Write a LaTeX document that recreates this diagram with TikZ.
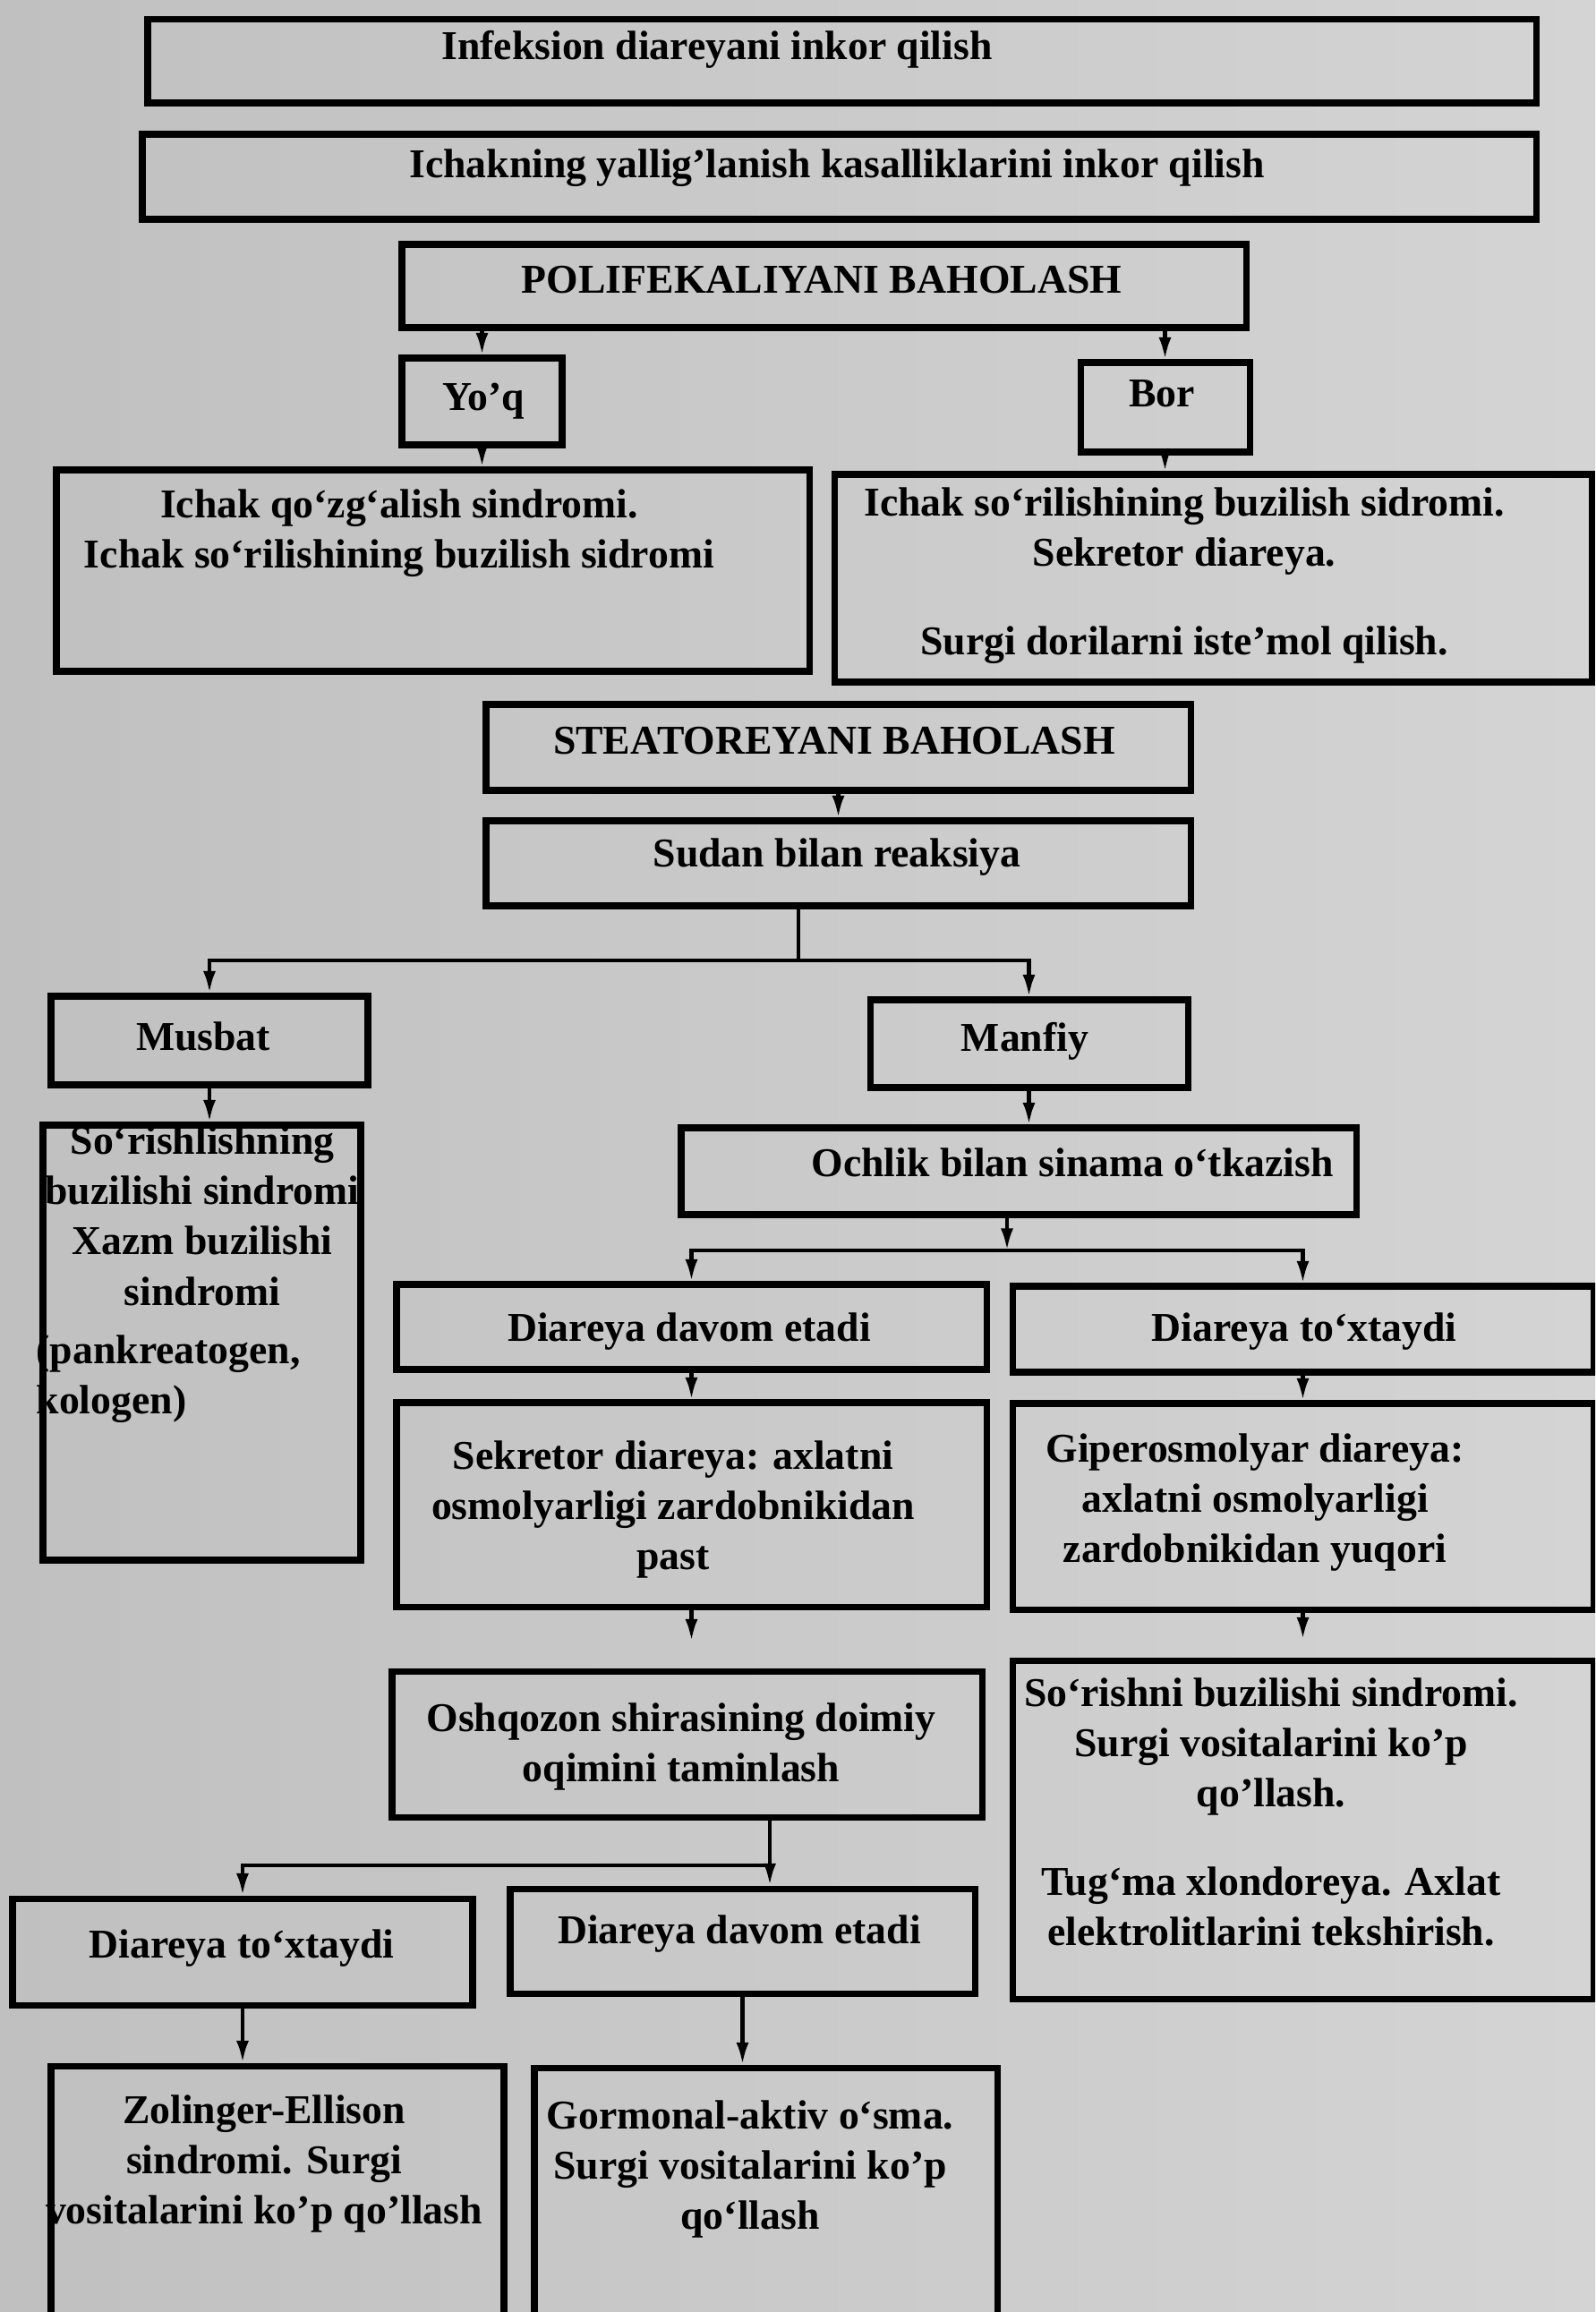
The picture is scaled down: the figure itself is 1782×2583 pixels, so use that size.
\documentclass[tikz,border=0pt]{standalone}
\usepackage{fontspec}
\setmainfont{Liberation Serif}
\usetikzlibrary{arrows.meta,fit}

\definecolor{fonchap}{RGB}{192,192,192}
\definecolor{fonong}{RGB}{212,212,212}
\newcommand{\matnshrift}{\bfseries\fontsize{13}{16}\selectfont}

\tikzset{
  quti/.style={draw, line width=2pt, inner sep=0pt},
  yozuv/.style={align=center, inner sep=0pt, anchor=north, font=\matnshrift},
  chiziq/.style={line width=1.2pt},
  strelka/.style={line width=1.2pt, -{Latex[length=7pt,width=4pt]}}
}

\begin{document}
\begin{tikzpicture}[x=0.01cm, y=-0.01cm]
\shade[left color=fonchap, right color=fonong, use as bounding box] (0,0) rectangle (1782,2583);
\clip (0,0) rectangle (1782,2583);

\foreach \n/\xa/\ya/\xb/\yb in {infek/165/22/1716/115, yallig/159/150/1716/245,
  polif/449/273/1392/366, yoq/449/400/628/497, bor/1207/405/1396/505,
  ichakA/63/525/904/750, ichakB/932/530/1778/762,
  steat/543/787/1330/883, sudan/543/917/1330/1012,
  musbat/57/1113/411/1212, manfiy/972/1117/1327/1215, mquti/48/1257/403/1743,
  ochlik/761/1260/1515/1357, davomA/443/1435/1102/1530, toxtA/1131/1437/1780/1533,
  sekret/443/1567/1102/1795, giper/1131/1568/1780/1798,
  oshq/438/1867/1097/2030, sorish/1131/1855/1780/2233,
  toxtB/14/2121/528/2240, davomB/570/2110/1089/2227,
  zoling/57/2308/563/2640, gorm/597/2310/1114/2640} {
  \node[quti, fit={(\xa,\yb) (\xb,\ya)}] (\n) {};
}

\node[yozuv] (infek_m) at (801,34) {Infeksion diareyani inkor qilish};
\node[yozuv] (yallig_m) at (935,166) {Ichakning yallig'lanish kasalliklarini inkor qilish};
\node[yozuv] (polif_m) at (918,297) {POLIFEKALIYANI BAHOLASH};
\node[yozuv] (yoq_m) at (540,427) {Yo'q};
\node[yozuv] (bor_m) at (1298,424) {Bor};
\node[yozuv] (ichakA_m) at (446,546) {Ichak qo‘zg‘alish sindromi.\\Ichak so‘rilishining buzilish sidromi};
\node[yozuv] (ichakB_m) at (1323,544) {Ichak so‘rilishining buzilish sidromi.\\Sekretor diareya.\\[12pt]Surgi dorilarni iste'mol qilish.};
\node[yozuv] (steat_m) at (932,812) {STEATOREYANI BAHOLASH};
\node[yozuv] (sudan_m) at (935,936) {Sudan bilan reaksiya};
\node[yozuv] (musbat_m) at (227,1141) {Musbat};
\node[yozuv] (manfiy_m) at (1145,1142) {Manfiy};
\node[yozuv] (mquti_m) at (226,1257) {So‘rishlishning\\buzilishi sindromi\\Xazm buzilishi\\sindromi};
\node[yozuv, anchor=north west, align=left] (mquti_n) at (40,1491) {(pankreatogen,\\kologen)};
\node[yozuv] (ochlik_m) at (1198,1282) {Ochlik bilan sinama o‘tkazish};
\node[yozuv] (davomA_m) at (770,1466) {Diareya davom etadi};
\node[yozuv] (toxtA_m) at (1457,1466) {Diareya to‘xtaydi};
\node[yozuv] (sekret_m) at (752,1609) {Sekretor diareya: axlatni\\osmolyarligi zardobnikidan\\past};
\node[yozuv] (giper_m) at (1402,1601) {Giperosmolyar diareya:\\axlatni osmolyarligi\\zardobnikidan yuqori};
\node[yozuv] (oshq_m) at (761,1902) {Oshqozon shirasining doimiy\\oqimini taminlash};
\node[yozuv] (sorish_m) at (1420,1874) {So‘rishni buzilishi sindromi.\\Surgi vositalarini ko'p\\qo'llash.\\[12pt]Tug‘ma xlondoreya. Axlat\\elektrolitlarini tekshirish.};
\node[yozuv] (toxtB_m) at (270,2155) {Diareya to‘xtaydi};
\node[yozuv] (davomB_m) at (826,2139) {Diareya davom etadi};
\node[yozuv] (zoling_m) at (295,2340) {Zolinger-Ellison\\sindromi. Surgi\\vositalarini ko'p qo'llash};
\node[yozuv] (gorm_m) at (838,2346) {Gormonal-aktiv o‘sma.\\Surgi vositalarini ko'p\\qo‘llash};

\coordinate (tugun1) at (892,1073);
\coordinate (tugun2) at (1125,1397);
\coordinate (tugun3) at (860,2084);

\draw[strelka] (yoq |- polif.south) -- (yoq.north);
\draw[strelka] (bor |- polif.south) -- (bor.north);
\draw[strelka] (yoq.south) -- (yoq.south |- ichakA.north);
\draw[strelka] (bor.south) -- (bor.south |- ichakB.north);
\draw[strelka] (steat.south) -- (sudan.north);
\draw[chiziq] (sudan.south -| tugun1) -- (tugun1);
\draw[strelka] (tugun1) -| (musbat.north);
\draw[strelka] (tugun1) -| (manfiy.north);
\draw[strelka] (musbat.south) -- (musbat.south |- mquti.north);
\draw[strelka] (manfiy.south) -- (manfiy.south |- ochlik.north);
\draw[strelka] (ochlik.south -| tugun2) -- (tugun2);
\draw[strelka] (tugun2) -| (davomA.north);
\draw[strelka] (tugun2) -| (toxtA.north);
\draw[strelka] (davomA.south) -- (sekret.north);
\draw[strelka] (toxtA.south) -- (giper.north);
\draw[strelka, shorten >=0.3cm] (sekret.south) -- (sekret.south |- oshq.north);
\draw[strelka, shorten >=0.2cm] (giper.south) -- (sorish.north);
\draw[chiziq] (oshq.south -| tugun3) -- (tugun3);
\draw[strelka] (tugun3) -| (toxtB.north);
\draw[strelka] (tugun3) -- (tugun3 |- davomB.north);
\draw[strelka] (toxtB.south) -- (toxtB.south |- zoling.north);
\draw[strelka] (davomB.south) -- (davomB.south |- gorm.north);
\end{tikzpicture}
\end{document}
